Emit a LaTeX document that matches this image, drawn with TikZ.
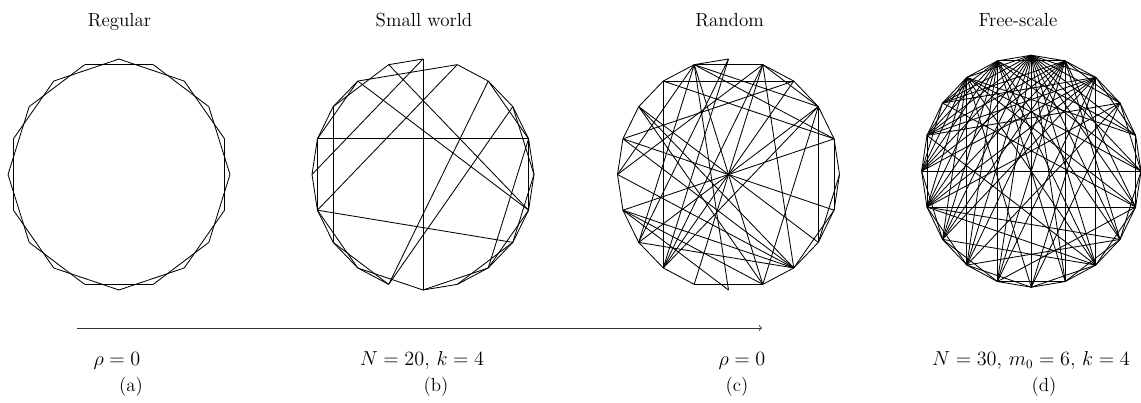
\documentclass[tikz,border=0pt]{standalone}

\begin{document}
\begin{tikzpicture}[x=0.25mm, y=-0.25mm,
	every node/.style={inner sep=0pt, anchor=base, font=\fontsize{13.5}{16}\selectfont},
	edge/.style={line width=0.6pt, line join=round}]
	\useasboundingbox (0,0) rectangle (1141,402);
	\foreach \g/\cx/\cy/\rx/\ry in {reg/119/174.5/111/115.5, sw/423/174.5/111/115.5, rnd/728.5/174.5/111/115.5, fs/1031.3/171.2/109.7/116}
		\foreach \i in {0,...,19}
			\coordinate (\g\i) at ({\cx+\rx*cos(90+18*\i)}, {\cy-\ry*sin(90+18*\i)});

	\foreach \i in {0,...,19} {
		\pgfmathtruncatemacro\j{mod(\i+2,20)}
		\draw[edge] (reg\i) -- (reg\j);
	}
	\foreach \a/\b in {0/1,0/5,0/10,1/3,1/14,2/3,2/4,2/14,2/19,3/4,3/7,4/5,4/6,4/16,5/6,6/7,6/8,6/13,6/19,7/8,7/9,8/9,8/10,9/17,9/18,10/11,10/12,11/12,11/13,12/13,12/14,12/16,13/14,13/15,14/15,14/16,15/16,15/17,16/17,16/18,17/18,18/19}
		\draw[edge] (sw\a) -- (sw\b);
	\foreach \a/\b in {0/1,0/7,0/8,1/2,1/5,1/7,1/10,1/11,1/16,1/17,1/19,2/3,2/8,2/16,2/18,3/4,3/11,3/12,3/13,4/5,4/12,4/14,4/18,5/6,5/12,5/19,6/7,6/10,6/11,6/12,6/16,7/8,7/12,7/17,8/9,8/17,8/18,8/19,9/11,9/19,11/12,11/17,12/13,12/14,12/19,13/14,13/15,13/17,14/15,14/16,15/16,16/17,17/18,17/19,18/19}
		\draw[edge] (rnd\a) -- (rnd\b);
	\foreach \i in {0,...,19} {
		\pgfmathtruncatemacro\j{mod(\i+1,20)}
		\pgfmathtruncatemacro\k{mod(\i+2,20)}
		\draw[edge] (fs\i) -- (fs\j);
		\draw[edge] (fs\i) -- (fs\k);
	}
	\foreach \h/\tl in {0/{3,4,5,6,7,8,9,10,11,12,13,14,15,16,17}, 19/{3,4,5,6,7,8,9,11,13,14}, 1/{4,5,6,7,8,9,11,12,13,15,16}, 18/{3,4,5,6,7,9,10,12}, 2/{5,6,7,8,10,12,14,15,16}, 17/{4,6,8,10}, 5/{15}, 6/{12,13,14}, 7/{12}, 4/{12}, 3/{14}, 8/{13}, 9/{14}}
		\foreach \t in \tl
			\draw[edge] (fs\h) -- (fs\t);

	\node (tReg) at (119.5,26) {Regular};
	\node (tSw) at (424,26) {Small world};
	\node (tRnd) at (729.6,26) {Random};
	\node (tFs) at (1018,26) {Free-scale};

	\coordinate (arrS) at (77,328);
	\coordinate (arrE) at (762,328);
	\draw[->, line width=0.6pt, black!80] (arrS) -- (arrE);

	\node (pA) at (117,365) {$\rho = 0$};
	\node (pB) at (422,365) {$N = 20,\, k = 4$};
	\node (pC) at (742,365) {$\rho = 0$};
	\node (pD) at (1031,365) {$N = 30,\, m_0 = 6,\, k = 4$};
	\node (la) at (131,391.5) {(a)};
	\node (lb) at (436,391.5) {(b)};
	\node (lc) at (737,391.5) {(c)};
	\node (ld) at (1044,391.5) {(d)};
\end{tikzpicture}
\end{document}
